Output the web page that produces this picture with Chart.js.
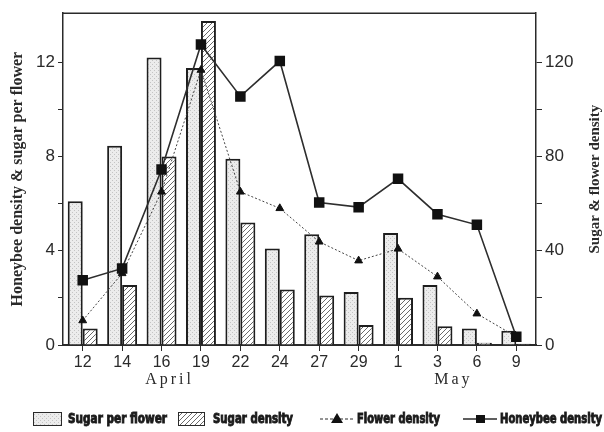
<!DOCTYPE html>
<html>
<head>
<meta charset="utf-8">
<script src="https://cdn.jsdelivr.net/npm/chart.js@4"></script>
<style>
  html, body { margin: 0; padding: 0; background: #fff; }
</style>
</head>
<body>
<canvas id="myChart" width="604" height="432"></canvas>
<script>
// values
const days = ['12', '14', '16', '19', '22', '24', '27', '29', '1', '3', '6', '9']
const sugarPerFlower = [6.1, 8.45, 12.2, 11.75, 7.9, 4.1, 4.7, 2.25, 4.75, 2.55, 0.7, 0.6]
const sugarDensity = [0.7, 2.55, 8.0, 13.75, 5.2, 2.35, 2.1, 0.85, 2.0, 0.8, 0.1, 0.05]
const flowerDensity = [10.4, 30.4, 65, 116.7, 65, 58, 43.8, 35.8, 40.8, 29, 13.3, 3.5]
const honeybeeDensity = [2.75, 3.25, 7.45, 12.75, 10.55, 12.05, 6.05, 5.85, 7.05, 5.55, 5.1, 0.35]
const leftTicks = [0, 2, 4, 6, 8, 10, 12]
const rightTicks = [0, 20, 40, 60, 80, 100, 120]
const months = ['April', 'May']

const ink = '#2a2a2a'

function stipple() {
  const c = document.createElement('canvas')
  c.width = 4; c.height = 4
  const g = c.getContext('2d')
  g.fillStyle = '#ececec'
  g.fillRect(0, 0, 4, 4)
  g.fillStyle = '#c4c4c4'
  g.fillRect(0, 0, 1, 1)
  g.fillRect(2, 2, 1, 1)
  return g.createPattern(c, 'repeat')
}

function hatch() {
  const c = document.createElement('canvas')
  c.width = 5; c.height = 5
  const g = c.getContext('2d')
  g.fillStyle = '#fff'
  g.fillRect(0, 0, 5, 5)
  g.strokeStyle = '#6a6a6a'
  g.lineWidth = 1
  g.beginPath()
  g.moveTo(-1, 6); g.lineTo(6, -1)
  g.moveTo(-1, 1); g.lineTo(1, -1)
  g.moveTo(4, 6); g.lineTo(6, 4)
  g.stroke()
  return g.createPattern(c, 'repeat')
}

const dotFill = stipple()
const hatchFill = hatch()

// squeeze/stretch a label to the width it has in the figure, drawn extra heavy
function fitText(ctx, text, x, y, w) {
  const m = ctx.measureText(text).width
  ctx.save()
  ctx.translate(x, y)
  ctx.scale(w / m, 1)
  ctx.lineWidth = 0.9
  ctx.strokeStyle = ctx.fillStyle
  ctx.strokeText(text, 0, 0)
  ctx.fillText(text, 0, 0)
  ctx.restore()
}

const extras = {
  id: 'extras',
  afterDraw(chart) {
    const ctx = chart.ctx
    const a = chart.chartArea
    const xs = chart.scales.x
    ctx.save()
    // top frame
    ctx.strokeStyle = ink
    ctx.lineWidth = 1.5
    ctx.beginPath()
    ctx.moveTo(a.left, a.top)
    ctx.lineTo(a.right, a.top)
    ctx.stroke()

    ctx.fillStyle = ink
    // axis titles
    ctx.textAlign = 'center'
    ctx.textBaseline = 'middle'
    const midY = (a.top + a.bottom) / 2
    ctx.save()
    ctx.font = 'bold 16px "Liberation Serif", serif'
    ctx.translate(18, midY)
    ctx.rotate(-Math.PI / 2)
    ctx.fillText('Honeybee density & sugar per flower', 0, 0)
    ctx.restore()
    ctx.save()
    ctx.font = 'bold 15px "Liberation Serif", serif'
    ctx.translate(595, midY)
    ctx.rotate(-Math.PI / 2)
    ctx.fillText('Sugar & flower density', 0, 0)
    ctx.restore()

    // month labels
    ctx.font = '16px "Liberation Serif", serif'
    ctx.letterSpacing = '3px'
    ctx.fillText(months[0], xs.getPixelForValue(2) + 8, 380)
    ctx.fillText(months[1], xs.getPixelForValue(9) + 16, 380)
    ctx.letterSpacing = '0px'

    // legend
    const ly = 419
    ctx.lineWidth = 1
    ctx.strokeStyle = ink
    ctx.fillStyle = dotFill
    ctx.fillRect(33, 412, 29, 14)
    ctx.strokeRect(33.5, 412.5, 28, 13)
    ctx.fillStyle = hatchFill
    ctx.fillRect(178, 412, 27, 14)
    ctx.strokeRect(178.5, 412.5, 26, 13)

    ctx.beginPath()
    ctx.setLineDash([3, 2])
    ctx.moveTo(320, ly); ctx.lineTo(353, ly)
    ctx.stroke()
    ctx.setLineDash([])
    ctx.fillStyle = '#111'
    ctx.beginPath()
    ctx.moveTo(337, ly - 6); ctx.lineTo(343, ly + 4); ctx.lineTo(331, ly + 4)
    ctx.closePath(); ctx.fill()

    ctx.lineWidth = 1.5
    ctx.beginPath()
    ctx.moveTo(463, ly); ctx.lineTo(497, ly)
    ctx.stroke()
    ctx.fillRect(476, ly - 4, 9, 8)

    ctx.fillStyle = '#1a1a1a'
    ctx.textAlign = 'left'
    ctx.font = 'bold 14px "Liberation Sans Narrow", "DejaVu Sans Condensed", sans-serif'
    fitText(ctx, 'Sugar per flower', 68, ly, 99)
    fitText(ctx, 'Sugar density', 213, ly, 80)
    fitText(ctx, 'Flower density', 357, ly, 83)
    fitText(ctx, 'Honeybee density', 500, ly, 102)
    ctx.restore()
  }
}

const ctx = document.getElementById('myChart')

new Chart(ctx, {
  type: 'bar',
  data: {
    labels: days,
    datasets: [
      {
        type: 'line',
        label: 'Honeybee density',
        data: honeybeeDensity,
        yAxisID: 'y',
        order: 1,
        borderColor: '#2e2e2e',
        borderWidth: 1.6,
        pointStyle: 'rect',
        pointRadius: 6.3,
        pointBackgroundColor: '#111',
        pointBorderColor: '#111',
        tension: 0
      },
      {
        type: 'line',
        label: 'Flower density',
        data: flowerDensity,
        yAxisID: 'y2',
        order: 1,
        borderColor: '#444',
        borderWidth: 1,
        borderDash: [2, 2],
        pointStyle: 'triangle',
        pointRadius: 4.5,
        pointBackgroundColor: '#111',
        pointBorderColor: '#111',
        tension: 0
      },
      {
        label: 'Sugar per flower',
        data: sugarPerFlower,
        yAxisID: 'y',
        order: 2,
        backgroundColor: dotFill,
        borderColor: '#1e1e1e',
        borderWidth: 2,
        categoryPercentage: 0.76,
        barPercentage: 1
      },
      {
        label: 'Sugar density',
        data: sugarDensity,
        yAxisID: 'y',
        order: 2,
        backgroundColor: hatchFill,
        borderColor: '#1e1e1e',
        borderWidth: 2,
        categoryPercentage: 0.76,
        barPercentage: 1
      }
    ]
  },
  plugins: [extras],
  options: {
    responsive: false,
    animation: false,
    devicePixelRatio: 1,
    layout: { padding: { top: 7, left: 0, right: 0, bottom: 0 } },
    plugins: {
      legend: { display: false },
      tooltip: { enabled: false }
    },
    scales: {
      x: {
        grid: { display: true, drawOnChartArea: false, offset: false, tickLength: 6, color: ink, lineWidth: 1 },
        border: { display: true, color: ink, width: 2 },
        ticks: { color: ink, font: { family: '"Liberation Sans", Arial, sans-serif', size: 16 }, padding: 2, maxRotation: 0, autoSkip: false },
        afterFit(s) { s.height = 87 }
      },
      y: {
        position: 'left',
        min: 0,
        max: 14.08,
        afterBuildTicks(s) { s.ticks = leftTicks.map(v => ({ value: v })) },
        grid: { display: true, drawOnChartArea: false, tickLength: 5, color: ink, lineWidth: 1 },
        border: { display: true, color: ink, width: 1.5 },
        ticks: {
          color: ink,
          padding: 3,
          font: { family: '"Liberation Sans", Arial, sans-serif', size: 17 },
          callback: v => (v % 4 === 0 ? v : '')
        },
        afterFit(s) { s.width = 63 }
      },
      y2: {
        position: 'right',
        min: 0,
        max: 140.8,
        afterBuildTicks(s) { s.ticks = rightTicks.map(v => ({ value: v })) },
        grid: { display: true, drawOnChartArea: false, tickLength: 6, color: ink, lineWidth: 1 },
        border: { display: true, color: ink, width: 1.5 },
        ticks: {
          color: ink,
          padding: 3,
          font: { family: '"Liberation Sans", Arial, sans-serif', size: 17 },
          callback: v => (v % 40 === 0 ? v : '')
        },
        afterFit(s) { s.width = 68 }
      }
    }
  }
})
</script>
</body>
</html>
